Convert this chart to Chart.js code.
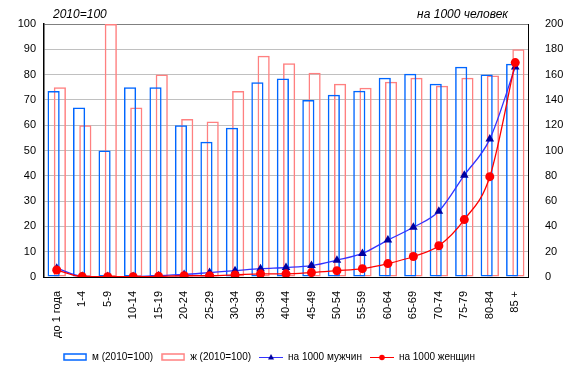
<!DOCTYPE html>
<html>
<head>
<meta charset="utf-8">
<script src="https://cdn.jsdelivr.net/npm/chart.js@4"></script>
<style>
  body { margin: 0; background: #fff; }
  #wrap { width: 572px; height: 372px; position: relative; }
</style>
</head>
<body>
<div id="wrap"><canvas id="myChart"></canvas></div>
<script>
const grupos = ['до 1 года', '1-4', '5-9', '10-14', '15-19', '20-24', '25-29', '30-34', '35-39', '40-44',
    '45-49', '50-54', '55-59', '60-64', '65-69', '70-74', '75-79', '80-84', '85 +']

// индексы 2010=100 (левая ось)
const hombres2010 = [73.5, 67, 50, 75, 75, 60, 53.5, 59, 77, 78.5, 70, 72, 73.6, 78.8, 80.3, 76.4, 83.1, 80, 84.3]
const mujeres2010 = [75, 60, 100, 67, 80, 62.5, 61.5, 73.5, 87.5, 84.5, 80.7, 76.4, 74.8, 77.2, 78.8, 75.6, 78.8, 79.6, 90]

// на 1000 человек (правая ось)
const porMilHombres = [7, 0.5, 0.3, 0.3, 1, 2, 3.5, 5, 6.6, 7.5, 9, 13.3, 18.6, 29.2, 39.3, 52, 80.5, 109, 166]
const porMilMujeres = [5.5, 0.3, 0.2, 0.2, 0.5, 1, 1, 1.6, 2.5, 2.5, 3.5, 5, 6.6, 10.6, 16.2, 24.7, 45.4, 79.3, 169.5]

const ticksIzq = [0, 10, 20, 30, 40, 50, 60, 70, 80, 90, 100]
const ticksDer = [0, 20, 40, 60, 80, 100, 120, 140, 160, 180, 200]

const FUENTE = "'Liberation Sans', Arial, sans-serif"

// iconos de la leyenda
const icono = (tipo, color, colorMarca) => {
    const c = document.createElement('canvas')
    c.width = 24
    c.height = 10
    const g = c.getContext('2d')
    if (tipo === 'barra') {
        g.strokeStyle = color
        g.lineWidth = 1.5
        g.strokeRect(1, 2, 22, 6)
    } else {
        g.strokeStyle = color
        g.lineWidth = 1
        g.beginPath()
        g.moveTo(0, 5.5)
        g.lineTo(24, 5.5)
        g.stroke()
        g.fillStyle = colorMarca
        g.beginPath()
        if (tipo === 'triangulo') {
            g.moveTo(12, 2)
            g.lineTo(15, 7.5)
            g.lineTo(9, 7.5)
        } else {
            g.arc(12, 5.5, 2.8, 0, Math.PI * 2)
        }
        g.closePath()
        g.fill()
    }
    return c
}

const iconos = [
    icono('barra', '#0066FF'),
    icono('barra', '#FF8080'),
    icono('triangulo', '#3333FF', '#0000A0'),
    icono('circulo', '#FF0000', '#FF0000')
]

const textos = {
    id: 'textos',
    afterLayout(chart) {
        // la leyenda del original va algo a la izquierda
        chart.legend.left -= 17
        chart.legend.right -= 17
    },
    afterDraw(chart) {
        const c = chart.ctx
        c.save()
        c.fillStyle = '#000'
        c.font = 'italic 12px ' + FUENTE
        c.textBaseline = 'alphabetic'
        c.textAlign = 'left'
        c.fillText('2010=100', 53, 18)
        c.textAlign = 'right'
        c.fillText('на 1000 человек', 508, 18)
        c.restore()
    }
}

Chart.defaults.font.family = FUENTE
Chart.defaults.color = '#000'

const ctx = document.getElementById('myChart')
const myChart = new Chart(ctx, {
    type: 'bar',
    data: {
        labels: grupos,
        datasets: [{
            label: 'м (2010=100)',
            data: hombres2010,
            yAxisID: 'y',
            backgroundColor: 'rgba(0,0,0,0)',
            borderColor: '#0066FF',
            borderWidth: 1.5,
            borderSkipped: false,
            order: 2
        }, {
            label: 'ж (2010=100)',
            data: mujeres2010,
            yAxisID: 'y',
            backgroundColor: 'rgba(0,0,0,0)',
            borderColor: '#FF8080',
            borderWidth: 1.5,
            borderSkipped: false,
            order: 2
        }, {
            type: 'line',
            label: 'на 1000 мужчин',
            data: porMilHombres,
            yAxisID: 'y1',
            borderColor: '#3333FF',
            borderWidth: 1.3,
            backgroundColor: '#0000A0',
            pointStyle: 'triangle',
            pointRadius: 5,
            pointBorderWidth: 0,
            cubicInterpolationMode: 'monotone',
            order: 1
        }, {
            type: 'line',
            label: 'на 1000 женщин',
            data: porMilMujeres,
            yAxisID: 'y1',
            borderColor: '#FF0000',
            borderWidth: 1.3,
            backgroundColor: '#FF0000',
            pointStyle: 'circle',
            pointRadius: 4.5,
            pointBorderWidth: 0,
            cubicInterpolationMode: 'monotone',
            order: 0
        }]
    },
    options: {
        responsive: true,
        maintainAspectRatio: false,
        animation: false,
        layout: { padding: { top: 24, left: 0, right: 0, bottom: 0 } },
        datasets: {
            bar: { categoryPercentage: 0.49, barPercentage: 1.95 }
        },
        plugins: {
            tooltip: { enabled: false },
            legend: {
                position: 'bottom',
                labels: {
                    usePointStyle: true,
                    pointStyleWidth: 24,
                    boxHeight: 10,
                    padding: 8,
                    font: { size: 10 },
                    generateLabels: (chart) => chart.data.datasets.map((ds, i) => ({
                        text: ds.label,
                        pointStyle: iconos[i],
                        fillStyle: 'rgba(0,0,0,0)',
                        strokeStyle: 'rgba(0,0,0,0)',
                        lineWidth: 0,
                        hidden: false,
                        datasetIndex: i
                    }))
                }
            }
        },
        scales: {
            x: {
                grid: { display: false },
                border: { color: '#000', width: 1 },
                ticks: {
                    autoSkip: false,
                    minRotation: 90,
                    maxRotation: 90,
                    padding: 6,
                    font: { size: 11 }
                },
                afterFit: (scale) => { scale.height = 67 }
            },
            y: {
                position: 'left',
                min: 0,
                max: 100,
                afterBuildTicks: (scale) => { scale.ticks = ticksIzq.map(v => ({ value: v })) },
                grid: {
                    color: (c) => c.tick.value === 100 ? '#808080' : '#C0C0C0',
                    drawTicks: false
                },
                border: { color: '#000', width: 1.5 },
                ticks: { padding: 8, font: { size: 11 } },
                afterFit: (scale) => { scale.width = 44 }
            },
            y1: {
                position: 'right',
                min: 0,
                max: 200,
                afterBuildTicks: (scale) => { scale.ticks = ticksDer.map(v => ({ value: v })) },
                grid: { display: false },
                border: { color: '#000', width: 1 },
                ticks: { padding: 9, font: { size: 11 } },
                afterFit: (scale) => { scale.width = 44 }
            }
        }
    },
    plugins: [textos]
})
</script>
</body>
</html>
